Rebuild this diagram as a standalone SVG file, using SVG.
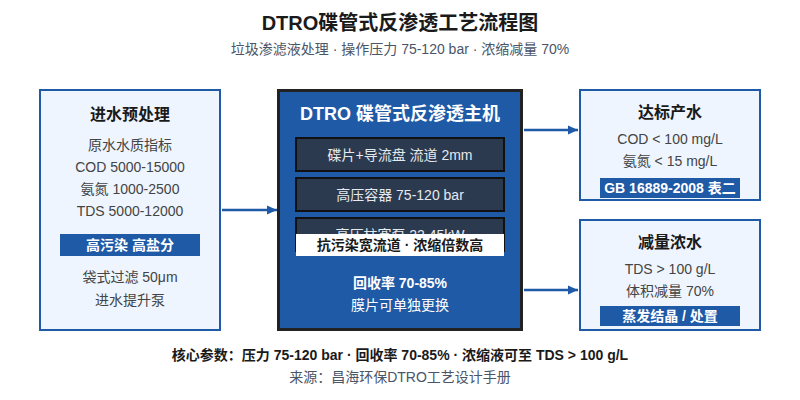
<svg xmlns="http://www.w3.org/2000/svg" width="800" height="400" viewBox="0 0 800 400">
<defs>
<marker id="ah" markerWidth="10" markerHeight="10" refX="10" refY="5" orient="auto" markerUnits="userSpaceOnUse"><path d="M0,0.5 L10,5 L0,9.5 Z" fill="#1f5aa6"/></marker>
<style>
text{font-family:"Liberation Sans","Noto Sans CJK SC",sans-serif;text-anchor:middle;dominant-baseline:central}
.t{font-size:20px;font-weight:bold;fill:#1a1a1a}
.st{font-size:14px;fill:#4a5568}
.side{fill:#eef5fe;stroke:#1f5aa6;stroke-width:2}
.h{font-size:16px;font-weight:bold;fill:#1a1a1a}
.b{font-size:14px;fill:#444}
.band{fill:#1f5aa6}
.bt{font-size:14px;font-weight:bold;fill:#fff}
.main{fill:#1f5aa6;stroke:#222;stroke-width:3}
.inner{fill:#2b3a4e;stroke:#111;stroke-width:2}
.it{font-size:14px;fill:#e6e9ee}
.wt{font-size:14px;fill:#fff}
.conn{stroke:#1f5aa6;stroke-width:2.5;fill:none}
.f1{font-size:14px;font-weight:bold;fill:#1a1a1a}
.f2{font-size:14px;fill:#4a5568}
</style>
</defs>
<text class="t" x="400" y="23">DTRO碟管式反渗透工艺流程图</text>
<text class="st" x="400" y="49">垃圾渗滤液处理 · 操作压力 75-120 bar · 浓缩减量 70%</text>

<g id="pretreat">
<rect class="side" x="40" y="90" width="180" height="240"/>
<text class="h" x="130" y="114">进水预处理</text>
<text class="b" x="130" y="145">原水水质指标</text>
<text class="b" x="130" y="167">COD 5000-15000</text>
<text class="b" x="130" y="189">氨氮 1000-2500</text>
<text class="b" x="130" y="211">TDS 5000-12000</text>
<rect class="band" x="60" y="234" width="140" height="22"/>
<text class="bt" x="130" y="245">高污染 高盐分</text>
<text class="b" x="130" y="277">袋式过滤 50μm</text>
<text class="b" x="130" y="300">进水提升泵</text>
</g>

<g id="main">
<rect class="main" x="278.5" y="90.5" width="243" height="239"/>
<text x="400" y="114" style="font-size:18px;font-weight:bold;fill:#fff">DTRO 碟管式反渗透主机</text>
<rect class="inner" x="296" y="138" width="208" height="33"/>
<text class="it" x="400" y="155">碟片+导流盘 流道 2mm</text>
<rect class="inner" x="296" y="178" width="208" height="33"/>
<text class="it" x="400" y="195">高压容器 75-120 bar</text>
<rect class="inner" x="296" y="218" width="208" height="33"/>
<text class="it" x="400" y="235">高压柱塞泵 22.45kW</text>
<rect x="296" y="234" width="208" height="22" fill="#fff"/>
<text x="400" y="245" style="font-size:14px;font-weight:bold;fill:#1a1a1a">抗污染宽流道 · 浓缩倍数高</text>
<text class="wt" x="400" y="283" style="font-weight:bold">回收率 70-85%</text>
<text class="wt" x="400" y="305">膜片可单独更换</text>
</g>

<g id="permeate">
<rect class="side" x="580" y="90" width="180" height="110"/>
<text class="h" x="670" y="112">达标产水</text>
<text class="b" x="670" y="139">COD &lt; 100 mg/L</text>
<text class="b" x="670" y="161">氨氮 &lt; 15 mg/L</text>
<rect class="band" x="600" y="178" width="140" height="20"/>
<text class="bt" x="670" y="188">GB 16889-2008 表二</text>
</g>

<g id="concentrate">
<rect class="side" x="580" y="220" width="180" height="110"/>
<text class="h" x="670" y="242">减量浓水</text>
<text class="b" x="670" y="269">TDS &gt; 100 g/L</text>
<text class="b" x="670" y="291">体积减量 70%</text>
<rect class="band" x="600" y="306" width="140" height="20"/>
<text class="bt" x="670" y="316">蒸发结晶 / 处置</text>
</g>

<g id="connectors">
<line class="conn" x1="222" y1="210" x2="277" y2="210" marker-end="url(#ah)"/>
<line class="conn" x1="524" y1="130" x2="578" y2="130" marker-end="url(#ah)"/>
<line class="conn" x1="524" y1="290" x2="578" y2="290" marker-end="url(#ah)"/>
</g>

<text class="f1" x="400" y="355">核心参数：压力 75-120 bar · 回收率 70-85% · 浓缩液可至 TDS &gt; 100 g/L</text>
<text class="f2" x="400" y="377">来源：昌海环保DTRO工艺设计手册</text>
</svg>
